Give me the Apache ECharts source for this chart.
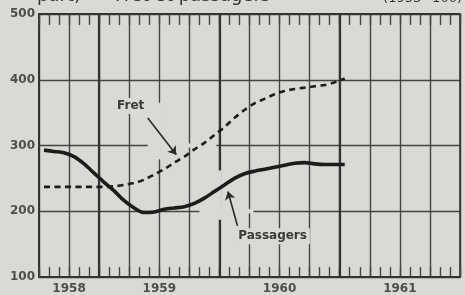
<!DOCTYPE html>
<html><head><meta charset="utf-8">
<script src="https://cdn.jsdelivr.net/npm/echarts@6/dist/echarts.min.js"></script>
<style>html,body{margin:0;padding:0;background:#d9d9d5;}#c{width:465px;height:295px;}</style>
</head><body><div id="c"></div>
<script>
// x values: months counted from January 1958 (mid-month points)
const months = [6.5,7.5,8.5,9.5,10.5,11.5,12.5,13.5,14.5,15.5,16.5,17.5,18.5,19.5,20.5,21.5,22.5,23.5,24.5,25.5,26.5,27.5,28.5,29.5,30.5,31.5,32.5,33.5,34.5,35.5,36.5];
const passagers = [293,291,289,283,272,258,244,231,216,205,198,199,203,205,207,212,220,230,240,250,257,261,264,267,270,273,274,272,271,271,271];
const fret = [237,237,237,237,237,237,237,238,240,243,248,256,264,274,283,294,304,316,328,342,354,364,371,378,383,386,388,390,392,396,402];
const yearLabels = ['1958','1959','1960','1961'];
const yearLabelMonths = [9,18,30,42];
const yearBoundaries = [12,24,36];
const titleText = 'part)\u207D\u00B9\u207E - Fret et passagers';
const baseText = '(1953=100)';
const seriesNames = ['Passagers','Fret'];
// annotation anchors in data coordinates [month, value]
const fretLabelAt = [15.15,360];
const fretArrow = [[16.85,342],[19.7,286]];
const passLabelAt = [29.3,162];
const passArrow = [[25.8,178],[24.85,230]];
const gapSegments = [[[18,279],[18,365]],[[24,187],[24,262]],[[16.85,300],[23.7,300]],[[22,200],[27.4,200]]];

const BG = '#d9d9d5';
const GRID = '#444';
const INK = '#1c1c1c';
const LBL = {fontFamily:'DejaVu Sans', fontWeight:'bold', fontSize:12, color:'#4d4d4d'};

const chart = echarts.init(document.getElementById('c'), null, {renderer:'canvas'});
const xBase = {type:'value', min:6, max:48, interval:3};
const option = {
  backgroundColor: BG,
  animation: false,
  grid: {left:39, right:5, top:14, bottom:14},
  xAxis: [
    Object.assign({}, xBase, {
      position:'bottom',
      axisLine:{show:true, lineStyle:{color:'#333', width:2}},
      axisTick:{show:true, inside:true, length:10, lineStyle:{color:'#444', width:1.4}},
      minorTick:{show:true, splitNumber:3, length:10, lineStyle:{color:'#444', width:1.4}},
      splitLine:{show:true, lineStyle:{color:GRID, width:1.4}},
      axisLabel:Object.assign({customValues:yearLabelMonths, margin:6,
        formatter:v => yearLabels[yearLabelMonths.indexOf(v)]}, LBL)
    }),
    Object.assign({}, xBase, {
      position:'top',
      axisLine:{show:true, lineStyle:{color:'#333', width:2}},
      axisTick:{show:true, inside:true, length:11, lineStyle:{color:'#444', width:1.4}},
      minorTick:{show:true, splitNumber:3, length:11, lineStyle:{color:'#444', width:1.4}},
      splitLine:{show:false},
      axisLabel:{show:false}
    })
  ],
  yAxis: [
    {type:'value', min:100, max:500, interval:100, position:'left',
     axisLine:{show:true, lineStyle:{color:'#333', width:2}},
     axisTick:{show:false},
     splitLine:{show:true, lineStyle:{color:GRID, width:1.4}},
     axisLabel:Object.assign({margin:4}, LBL)},
    {type:'value', min:100, max:500, interval:100, position:'right',
     axisLine:{show:true, lineStyle:{color:'#333', width:1.6}},
     axisTick:{show:false}, splitLine:{show:false}, axisLabel:{show:false}}
  ],
  series: [
    {name:seriesNames[0], type:'line', z:3, showSymbol:false, smooth:0.3,
     data: months.map((m,i)=>[m, passagers[i]]),
     lineStyle:{color:INK, width:3.6},
     markLine:{silent:true, z:1, symbol:'none', animation:false,
       label:{show:false}, lineStyle:{color:'#333', width:2.2, type:'solid'},
       data: yearBoundaries.map(m=>({xAxis:m}))}},
    {name:seriesNames[1], type:'line', z:3, showSymbol:false, smooth:0.3,
     data: months.map((m,i)=>[m, fret[i]]),
     lineStyle:{color:INK, width:2.6, type:[6,4.5]},
     markLine:{silent:true, z:5, symbol:['none','arrow'], symbolSize:8, animation:false,
       label:{show:false}, lineStyle:{color:'#2a2a2a', width:1.6, type:'solid'},
       data:[
         [{coord:fretArrow[0]},{coord:fretArrow[1]}],
         [{coord:passArrow[0]},{coord:passArrow[1]}]
       ]}}
  ]
};
chart.setOption(option);

const px = p => chart.convertToPixel({xAxisIndex:0, yAxisIndex:0}, p);
const graphics = [];
gapSegments.forEach(seg => {
  const a = px(seg[0]), b = px(seg[1]);
  graphics.push({type:'line', z:2, silent:true,
    shape:{x1:a[0], y1:a[1], x2:b[0], y2:b[1]},
    style:{stroke:BG, lineWidth:4}});
});
const fl = px(fretLabelAt), pl = px(passLabelAt);
graphics.push({type:'text', z:4, x:fl[0], y:fl[1],
  style:{text:seriesNames[1], fill:'#3a3a3a', font:'bold 12px "DejaVu Sans"',
    textAlign:'center', textVerticalAlign:'middle', align:'center', verticalAlign:'middle',
    backgroundColor:BG, padding:[2,3]}});
graphics.push({type:'text', z:4, x:pl[0], y:pl[1],
  style:{text:seriesNames[0], fill:'#3a3a3a', font:'bold 12px "DejaVu Sans"',
    textAlign:'center', textVerticalAlign:'middle', align:'center', verticalAlign:'middle',
    backgroundColor:BG, padding:[2,3]}});
graphics.push({type:'text', z:4, x:37, y:-4,
  style:{text:titleText, fill:'#333', font:'18px "DejaVu Sans"',
    textAlign:'left', textVerticalAlign:'middle', align:'left', verticalAlign:'middle'}});
graphics.push({type:'text', z:4, x:462, y:-1,
  style:{text:baseText, fill:'#333', font:'13px "DejaVu Sans"',
    textAlign:'right', textVerticalAlign:'middle', align:'right', verticalAlign:'middle'}});
chart.setOption({graphic: graphics});
</script>
</body></html>
